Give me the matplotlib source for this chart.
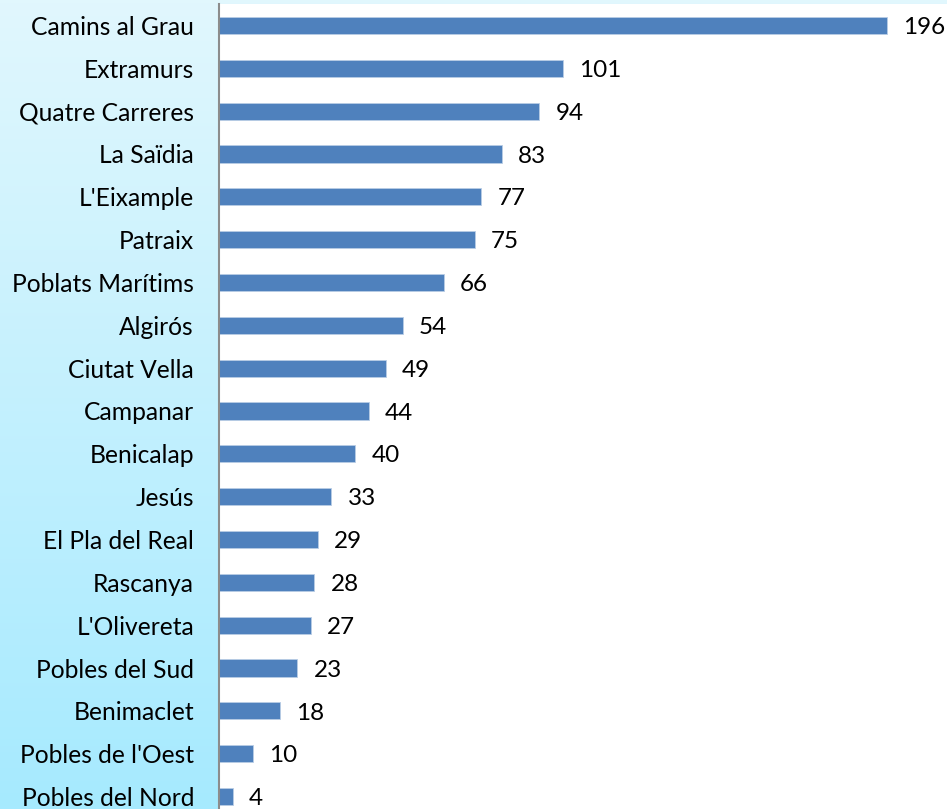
import matplotlib.pyplot as plt
import matplotlib.colors as mcolors
import numpy as np

districts = [
    "Camins al Grau", "Extramurs", "Quatre Carreres", "La Saïdia", "L'Eixample",
    "Patraix", "Poblats Marítims", "Algirós", "Ciutat Vella", "Campanar",
    "Benicalap", "Jesús", "El Pla del Real", "Rascanya", "L'Olivereta",
    "Pobles del Sud", "Benimaclet", "Pobles de l'Oest", "Pobles del Nord",
]
counts = [196, 101, 94, 83, 77, 75, 66, 54, 49, 44, 40, 33, 29, 28, 27, 23, 18, 10, 4]

plt.rcParams['font.family'] = ['Lato', 'DejaVu Sans']

fig = plt.figure(figsize=(9.47, 8.09), dpi=100)

# light cyan gradient behind everything
bg = fig.add_axes([0, 0, 1, 1], zorder=0)
grad = np.linspace(0, 1, 256).reshape(-1, 1)
cmap = mcolors.LinearSegmentedColormap.from_list("bgc", ["#e1f7fd", "#a6eaff"])
bg.imshow(grad, aspect="auto", cmap=cmap, extent=[0, 1, 0, 1], origin="upper")
bg.axis("off")

# plot area (bottom runs a bit past the figure edge, like the cropped original)
ax = fig.add_axes([219 / 947, -9 / 809, 1 - 219 / 947, (809 - 4 + 9) / 809], zorder=1)
ax.set_facecolor("white")

y = np.arange(len(districts))
ax.barh(y, counts, height=0.4, color="#4f81bd", edgecolor="#b9cde5", linewidth=0.6)

for yi, v in zip(y, counts):
    ax.text(v + 4.7, yi + 0.05, str(v), va="center", ha="left", fontsize=17.5, color="black")

ax.set_ylim(len(districts) - 0.5, -0.5)
ax.set_xlim(0, 728 / 3.408)
ax.set_yticks(y)
ax.set_yticklabels(districts, fontsize=17.7)
ax.tick_params(axis="y", length=0, pad=18)
ax.set_xticks([])

for side in ["top", "right", "bottom"]:
    ax.spines[side].set_visible(False)
ax.spines["left"].set_color("#8c8c8c")
ax.spines["left"].set_linewidth(1.5)

fig.savefig("out.png", dpi=100)
